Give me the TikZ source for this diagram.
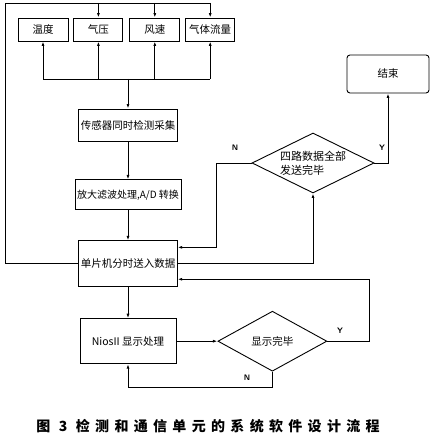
\documentclass[tikz,border=0pt]{standalone}
\usepackage{fontspec}
\newfontfamily\cjk{Noto Sans CJK SC}
\newfontfamily\capfont[LetterSpace=38]{Noto Sans CJK SC}
\usepackage{tikz}
\usetikzlibrary{arrows.meta,positioning,shapes.geometric}

\begin{document}
\begin{tikzpicture}[
	x=1pt,y=1pt,
	node distance=30pt and 5pt,
	box/.style={
		draw,
		line width=0.9pt,
		align=center,
		inner sep=2pt,
		font=\cjk\fontsize{10.5}{12}\selectfont
	},
	sensor/.style={box,minimum width=50pt,minimum height=23pt},
	proc/.style={box,minimum width=96pt},
	test/.style={box,diamond,shape aspect=2,inner sep=0pt},
	arrow/.style={-{Latex[length=4.5pt,width=3pt]},line width=0.9pt},
	line/.style={line width=0.9pt},
	lbl/.style={font=\sffamily\bfseries\fontsize{8}{9}\selectfont,inner sep=1pt}
	]
	
	\useasboundingbox (0,0) rectangle (430,435);
	
	% sensor row
	\node[sensor] (temp) at (43,405.5) {温度};
	\node[sensor,minimum width=49pt,right=of temp] (press) {气压};
	\node[sensor,right=6pt of press] (wind) {风速};
	\node[sensor,minimum width=49pt,right=of wind] (flow) {气体流量};
	
	% main column
	\node[proc,minimum height=32pt] (collect) at (128,310) {传感器同时检测采集};
	\node[proc,minimum height=30pt,below=38pt of collect,
		font=\cjk\fontsize{10}{12}\selectfont] (amp) {放大滤波处理,A/D 转换};
	\node[proc,minimum height=46pt,below=of amp] (mcu) {单片机分时送入数据};
	\node[proc,minimum height=45pt,below=31pt of mcu] (nios) {NiosII 显示处理};
	\node[test,minimum width=109pt,minimum height=60pt,right=41pt of nios] (shown) {显示完毕};
	
	% right side
	\node[test,minimum width=122pt,minimum height=60pt,align=left,
		font=\cjk\fontsize{11}{14}\selectfont] (sent) at (313,272) {四路数据全部\\发送完毕};
	\node[box,rounded corners=3pt,minimum width=82pt,minimum height=38pt] (finish) at (388,361) {结束};
	
	\coordinate (hub) at (128,356);
	\coordinate (ret) at (5,432);
	
	\draw[arrow] (hub) -- (collect);
	\draw[line] (hub -| temp) -- (hub -| flow);
	\foreach \s in {temp,press,wind,flow}
		\draw[arrow] (hub -| \s) -- (\s.south);
	
	\draw[line] (mcu.west) -| (ret) -- (ret -| flow);
	\foreach \s in {press,wind,flow}
		\draw[arrow] (ret -| \s) -- (\s.north);
	
	\draw[arrow] (collect) -- (amp);
	\draw[arrow] (amp) -- (mcu);
	\draw[arrow] (mcu) -- (nios);
	\draw[arrow] (nios) -- (shown);
	
	\draw[arrow] (shown.east) -- ++(42,0) |- ([yshift=8pt]mcu.south east);
	\node[lbl] at (340,104) {Y};
	\draw[arrow] (shown.south) -- ++(0,-16) -| (nios.south);
	\node[lbl] at (247,57) {N};
	
	\draw[arrow] (mcu.east) -| (sent.south);
	\draw[arrow] (sent.west) -- ++(-35,0) |- ([yshift=-7pt]mcu.north east);
	\node[lbl] at (235,287) {N};
	\draw[arrow] (sent.east) -| (finish.south);
	\node[lbl] at (382,287) {Y};
	
	\node[font=\capfont\bfseries\fontsize{14}{16}\selectfont] (caption) at (208,9) {图 3 检测和通信单元的系统软件设计流程};
	
\end{tikzpicture}
\end{document}
